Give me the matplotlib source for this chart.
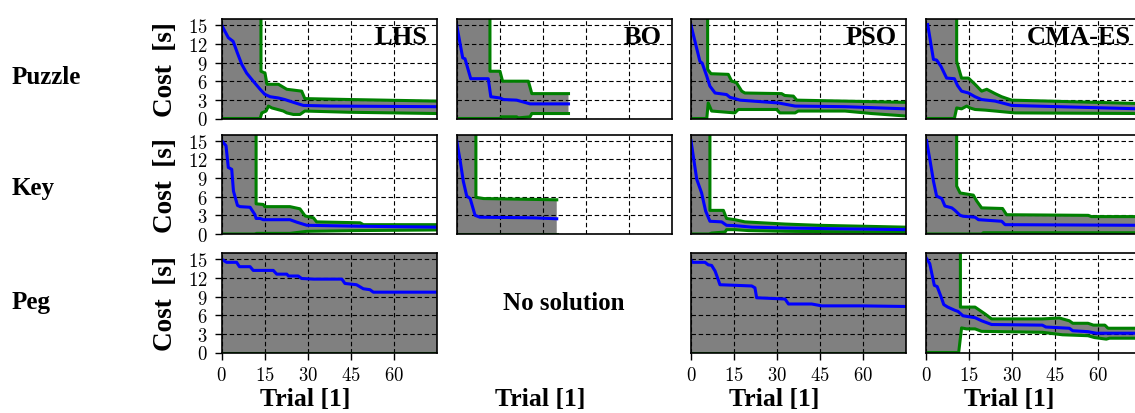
import matplotlib
matplotlib.use('Agg')
import matplotlib.pyplot as plt
from matplotlib.ticker import FuncFormatter

plt.rcParams['font.family'] = ['Liberation Serif', 'DejaVu Serif']
plt.rcParams['mathtext.fontset'] = 'cm'

UNB = 99  # bound not reached yet -> drawn above the top of the axes

tasks = ['Puzzle', 'Key', 'Peg']
methods = ['LHS', 'BO', 'PSO', 'CMA-ES']
trial_ticks = [0, 15, 30, 45, 60]
cost_ticks = [0, 3, 6, 9, 12, 15]

# (trial, cost) knots: median (blue), upper / lower bound (green)
puzzle_lhs_med = [(0, 15), (2.3, 13), (4, 12.4), (5.5, 10.5), (7, 8.7), (8.7, 7.3), (11, 6), (13.4, 4.7),
                  (15, 3.9), (16.9, 3.5), (19.8, 3.3), (22, 3.05), (25, 2.6), (28.5, 2.1), (37.8, 2.0), (75, 1.9)]
puzzle_lhs_hi = [(0, UNB), (13.7, UNB), (13.7, 7.6), (15.1, 7.3), (15.8, 5.5), (19.8, 5.5), (22.7, 4.7),
                 (27.9, 4.4), (29, 3.2), (44.8, 3.05), (75, 2.8)]
puzzle_lhs_lo = [(0, 0), (13.4, 0), (14, 0.9), (15.5, 1.2), (16.3, 2.0), (17.5, 1.7), (21.5, 1.2), (22.7, 0.9),
                 (25, 0.65), (27.3, 0.65), (29, 1.2), (44.8, 1.0), (75, 0.8)]

puzzle_bo_med = [(0, 15), (2.1, 9.75), (2.9, 9.6), (4.9, 6.4), (11, 6.4), (11.9, 3.5), (15.1, 3.3), (16.3, 3.05),
                 (20.9, 2.95), (25.6, 2.35), (39, 2.35)]
puzzle_bo_hi = [(0, UNB), (11.6, UNB), (11.6, 7.6), (15.1, 7.6), (16, 6.0), (25, 6.0), (26.2, 4.0), (39, 4.0)]
puzzle_bo_lo = [(0, 0), (15.1, 0), (15.6, 0.27), (20.9, 0.27), (21.5, 0.1), (25.6, 0.27), (26.2, 0.8), (39, 0.8)]

puzzle_pso_med = [(0, 15), (3.1, 9.2), (3.9, 8.9), (5.5, 6.8), (6.6, 5.2), (8.4, 4.1), (12.4, 3.85), (13.6, 3.4),
                  (15.3, 3.2), (17.1, 2.95), (30.5, 2.5), (36.3, 2.0), (53.7, 1.9), (75, 1.55)]
puzzle_pso_hi = [(0, UNB), (5.8, UNB), (5.8, 7.9), (7, 7.2), (13, 7.1), (14.2, 6.0), (15.8, 5.8), (17.7, 4.4),
                 (18.8, 4.1), (31.6, 4.0), (32.7, 3.7), (35.7, 3.6), (36.9, 2.95), (75, 2.6)]
puzzle_pso_lo = [(0, 0), (5.5, 0), (6, 2.5), (7.2, 1.2), (15.3, 0.9), (16.5, 1.45), (29.9, 1.45), (31, 0.9),
                 (36.3, 0.9), (37.4, 1.2), (53.7, 1.2), (63, 0.8), (75, 0.4)]

puzzle_cma_med = [(0.6, 15.1), (2.6, 9.5), (3.7, 9.4), (5.2, 8.4), (7.2, 6.5), (9.9, 6.4), (11, 5.3), (12.4, 4.4),
                  (14.8, 4.1), (17.1, 3.5), (19.4, 3.05), (24.1, 2.8), (29.9, 2.1), (75, 1.55)]
puzzle_cma_hi = [(0, UNB), (10.7, UNB), (10.7, 9.2), (12.4, 6.5), (14.8, 6.5), (17.1, 5.5), (19.4, 4.4),
                 (21.2, 4.7), (24.1, 4.0), (26.4, 3.5), (29.9, 2.95), (42.7, 2.8), (75, 2.4)]
puzzle_cma_lo = [(0, 0), (9.9, 0), (10.7, 1.7), (12.4, 1.55), (14.2, 2.0), (15.3, 1.7), (17.1, 1.45),
                 (20.6, 1.35), (24.1, 1.2), (31, 0.9), (75, 0.8)]

key_lhs_med = [(0, 15), (1.5, 14.2), (2.3, 10.7), (3.5, 10.4), (4.1, 6.9), (5.5, 4.6), (6.4, 4.4), (9.9, 4.3),
               (11.6, 3.1), (12, 2.5), (13.4, 2.5), (14.5, 2.3), (23.8, 2.3), (26.2, 1.9), (29.7, 1.4),
               (48.3, 1.25), (75, 1.1)]
key_lhs_hi = [(0, UNB), (12, UNB), (12, 4.85), (14.5, 4.75), (15, 4.4), (23.8, 4.4), (27.3, 4.05), (29.1, 2.9),
              (32, 2.6), (33.1, 1.95), (48.3, 1.8), (49.4, 1.5), (75, 1.5)]
key_lhs_lo = [(0, 0), (11.5, 0), (12.2, 0.1), (23.8, 0.1), (29.7, 0.43), (47, 0.55), (75, 0.65)]

key_bo_med = [(0, 15), (1.2, 11.8), (2.3, 8.5), (3.5, 6.1), (4.7, 5.7), (6.4, 3.0), (8.1, 2.7), (26.7, 2.6),
              (34.9, 2.45)]
key_bo_hi = [(0, UNB), (6.7, UNB), (6.7, 5.9), (9.3, 5.7), (34.9, 5.5)]
key_bo_lo = [(0, 0), (34.9, 0)]

key_pso_med = [(0, 15), (2.0, 8.8), (3.7, 6.6), (5.1, 3.7), (6.6, 2.05), (10.7, 1.95), (12.4, 1.4), (15.3, 1.35),
               (21.2, 1.1), (32.8, 0.97), (47.9, 0.86), (75, 0.7)]
key_pso_hi = [(0, UNB), (6.6, UNB), (6.6, 3.8), (11.3, 3.8), (12.4, 2.5), (15.3, 2.3), (18.8, 1.95), (32.8, 1.6),
              (44.4, 1.4), (75, 1.1)]
key_pso_lo = [(0, 0), (6.3, 0), (7.2, 0.15), (11.9, 0.32), (12.4, 0.7), (15.3, 0.7), (20, 0.55), (32.8, 0.43),
              (75, 0.27)]

key_cma_med = [(0.2, 15), (1.4, 11.8), (2.6, 8.5), (3.7, 6.1), (5.5, 5.7), (6.6, 4.5), (9, 4.2), (10.1, 3.8),
               (11.9, 3.0), (13, 2.85), (17.1, 2.7), (18.3, 2.3), (26.4, 2.05), (27.6, 1.5), (75, 1.4)]
key_cma_hi = [(0, UNB), (10.7, UNB), (10.7, 7.7), (11.9, 6.6), (16.5, 6.25), (17.7, 5.3), (19.4, 4.2),
              (26.7, 4.1), (28.1, 3.1), (56.6, 3.0), (57.7, 2.8), (75, 2.8)]
key_cma_lo = [(0, 0), (19.4, 0), (20, 0.2), (75, 0.2)]

peg_lhs_med = [(0, 15), (1.7, 14.5), (5.2, 14.5), (6.2, 13.8), (9.9, 13.8), (11, 13.2), (18, 13.2), (19.2, 12.6),
               (22.7, 12.6), (23.3, 12.3), (26.7, 12.3), (27.9, 11.9), (32, 11.8), (41.9, 11.8), (43, 11.1),
               (47, 10.9), (49.4, 10.25), (51.7, 10.1), (52.9, 9.7), (75, 9.7)]
peg_lhs_hi = [(0, UNB), (75, UNB)]
peg_lhs_lo = [(0, 0), (75, 0)]

peg_pso_med = [(0, 14.85), (0.6, 14.5), (4.9, 14.5), (6, 14.1), (7.2, 14), (8.4, 13.1), (9.5, 11.7), (10.1, 10.9),
               (21.2, 10.7), (22.3, 10.4), (22.9, 8.8), (32.8, 8.6), (34, 7.8), (42.1, 7.8), (45.6, 7.5),
               (59.5, 7.5), (75, 7.4)]
peg_pso_hi = [(0, UNB), (75, UNB)]
peg_pso_lo = [(0, 0), (75, 0)]

peg_cma_med = [(0.2, 15.1), (1.3, 14.3), (2.9, 10.8), (3.9, 10.6), (5.3, 8.9), (6.2, 7.7), (7.6, 7.3), (10, 6.8),
               (11.2, 6.6), (12.9, 5.9), (17.1, 5.6), (19.4, 5.1), (22.9, 4.5), (40.6, 4.4), (41.8, 4.1),
               (50, 3.9), (51.2, 3.5), (56.5, 3.35), (59.4, 3.1), (75, 3.1)]
peg_cma_hi = [(0, UNB), (12, UNB), (12, 7.3), (17.1, 7.3), (20.6, 6.2), (22.9, 5.4), (40.6, 5.4), (46.5, 5.55),
              (50, 5.1), (51.2, 4.7), (56.5, 4.7), (58.4, 4.4), (62.4, 4.4), (63.5, 3.9), (75, 3.9)]
peg_cma_lo = [(0, 0), (11.4, 0), (12.4, 3.95), (14.1, 3.8), (17.1, 3.8), (19.4, 3.4), (40.6, 3.25), (47.6, 2.85),
              (56.5, 2.7), (58.8, 2.4), (62.9, 2.15), (64, 2.3), (75, 2.3)]

runs = [
    [(puzzle_lhs_med, puzzle_lhs_hi, puzzle_lhs_lo), (puzzle_bo_med, puzzle_bo_hi, puzzle_bo_lo),
     (puzzle_pso_med, puzzle_pso_hi, puzzle_pso_lo), (puzzle_cma_med, puzzle_cma_hi, puzzle_cma_lo)],
    [(key_lhs_med, key_lhs_hi, key_lhs_lo), (key_bo_med, key_bo_hi, key_bo_lo),
     (key_pso_med, key_pso_hi, key_pso_lo), (key_cma_med, key_cma_hi, key_cma_lo)],
    [(peg_lhs_med, peg_lhs_hi, peg_lhs_lo), None,
     (peg_pso_med, peg_pso_hi, peg_pso_lo), (peg_cma_med, peg_cma_hi, peg_cma_lo)],
]

# layout in pixels (figure is 1135 x 414, last column runs past the right edge)
W, H = 1135, 414
col_left = [221.7, 456.7, 691, 926]
row_top = [20, 135.5, 254]
ax_w, ax_h = 215, 99.5
row_label_y = [78, 189, 302]

fig = plt.figure(figsize=(W / 100, H / 100), dpi=100)
tick_fmt = FuncFormatter(lambda v, p: '$%g$' % v)

for r, task in enumerate(tasks):
    fig.text(12 / W, 1 - row_label_y[r] / H, task, fontsize=18, fontweight='bold', ha='left', va='center')
    for c, method in enumerate(methods):
        ax = fig.add_axes([col_left[c] / W, 1 - (row_top[r] + ax_h) / H, ax_w / W, ax_h / H])
        ax.set_xlim(0, 75)
        ax.set_ylim(0, 16)
        ax.set_xticks(trial_ticks)
        ax.set_yticks(cost_ticks)
        ax.xaxis.set_major_formatter(tick_fmt)
        ax.yaxis.set_major_formatter(tick_fmt)
        ax.tick_params(labelsize=13.5, length=5, width=1, pad=5, direction='out',
                       labelleft=(c == 0), labelbottom=(r == 2), left=(c == 0), bottom=(r == 2))
        if r == 2:
            ax.set_xlabel('Trial [1]', fontsize=18.5, fontweight='bold')
            ax.xaxis.set_label_coords(0.388, -0.345)
        if c == 0:
            ax.set_ylabel('Cost  [s]', fontsize=19.5, fontweight='bold', va='center')
            ax.yaxis.set_label_coords(-0.262, 0.5)

        data = runs[r][c]
        if data is None:
            # no successful run for this combination
            for s in ax.spines.values():
                s.set_visible(False)
            ax.tick_params(left=False, bottom=False, labelleft=False, labelbottom=False)
            ax.text(0.5, 0.5, 'No solution', transform=ax.transAxes, fontsize=18, fontweight='bold',
                    ha='center', va='center')
            continue

        med, hi, lo = data
        hx, hy = zip(*hi)
        lx, ly = zip(*lo)
        mx, my = zip(*med)
        ax.fill(list(hx) + list(lx[::-1]), list(hy) + list(ly[::-1]), color='#808080', lw=0, zorder=1)
        ax.plot(hx, hy, color='#008000', lw=2.2, zorder=3)
        ax.plot(lx, ly, color='#008000', lw=2.2, zorder=3)
        ax.plot(mx, my, color='#0000ff', lw=2.2, zorder=4)

        ax.grid(True, color='black', ls='--', lw=0.8, dashes=(4, 2.5))
        ax.set_axisbelow(False)
        for s in ax.spines.values():
            s.set_linewidth(1.2)
            s.set_zorder(5)
        if r == 0:
            ax.text(0.955, 0.94, method, transform=ax.transAxes, fontsize=19, fontweight='bold',
                    ha='right', va='top', zorder=6)

fig.savefig('out.png', dpi=100)
